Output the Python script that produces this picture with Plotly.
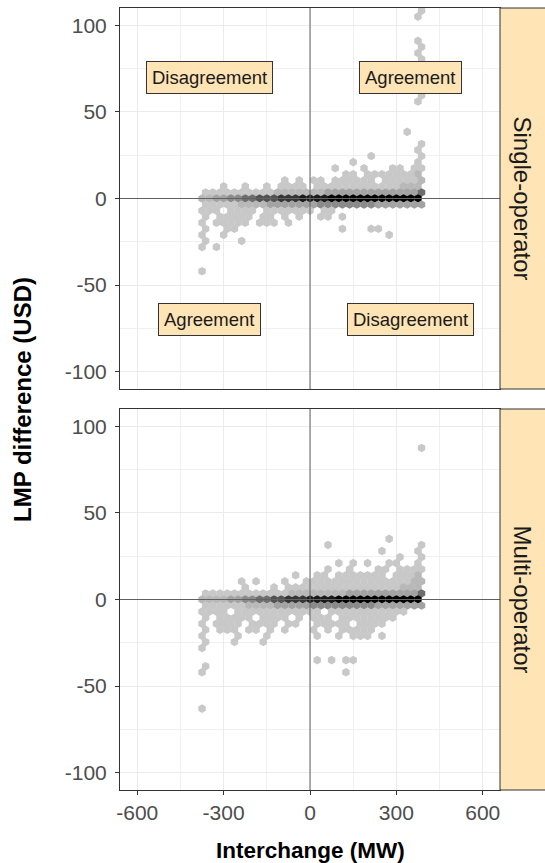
import plotly.graph_objects as go

# ---------------- data ----------------
# Hex-bin grid: bin centres. Even rows start at GRID_X0, odd rows are shifted half a bin.
GRID_X0 = -375.0      # MW
GRID_DX = 25.0        # MW between bins in a row
GRID_DY = 3.5         # USD between rows
# Each row: key = row index (y = index * GRID_DY), one char per bin, '.' = empty, 1..9 = count level
SINGLE_ROWS = {
    31: "..............................1",
    30: "..............................1",
    26: "..............................1",
    25: "..............................1",
    24: "..............................1",
    23: "..............................1",
    21: "..............................1",
    17: "..............................1",
    16: "..............................1",
    11: "............................1..",
    9:  "..............................1",
    8:  "..............................1",
    7:  ".......................1......1",
    6:  ".....................1........1",
    5:  "..................1...1...11.11",
    4:  "....................11.11111112",
    3:  "...........1.1.11.111111.111112",
    2:  "...1..1..1.1111.111111111111222",
    1:  "1111111111222222233333333333335",
    0:  "2233445566677788889999999999999",
    -1: "1111122223333333444444443333333",
    -2: "111.1111.1111111.11............",
    -3: "1.11111.11.1.1..11.1...........",
    -4: "1.11111.111.1..................",
    -5: "1..11..............1...11......",
    -6: "1..1......................1....",
    -7: "1....1.........................",
    -8: "1.1............................",
    -12: "1..............................",
}
MULTI_ROWS = {
    25: "..............................1",
    10: "..........................1....",
    9:  ".................1............1",
    8:  ".........................1....1",
    7:  "...........................1..1",
    6:  "...................1.1.1..11..1",
    5:  ".................1..1...11.1111",
    4:  ".............1..11.1111111.1112",
    3:  ".....1.1...1..11111111111111122",
    2:  "......1...1.1111111111111111222",
    1:  "1111111111112222222233333333335",
    0:  "2222334455667778888999999999999",
    -1: "1111112222333334444444443333333",
    -2: "1111.111111111111.11111111111..",
    -3: "1.11111.1111.1.111.11111111....",
    -4: "1.1111.1111.11..11111.1111.....",
    -5: "1.111.11.1.1...1.1.11111.......",
    -6: "1....1...1......1..1.111.1.....",
    -7: "1...1...1......................",
    -8: "1..............................",
    -10: "................1.1.11.........",
    -11: "1..............................",
    -12: "1...................1..........",
    -18: "1..............................",
}
PANELS = ["Single-operator", "Multi-operator"]
X_TICKS = [-600, -300, 0, 300, 600]
Y_TICKS = [-100, -50, 0, 50, 100]
LABELS = ["Disagreement", "Agreement", "Agreement", "Disagreement"]
LABEL_X = [-350, 350, -350, 350]
LABEL_Y = [70, 70, -70, -70]


def cells(rows):
    xs, ys, cs = [], [], []
    for j, s in rows.items():
        for k, ch in enumerate(s):
            if ch != ".":
                xs.append(GRID_X0 + (j % 2) * GRID_DX / 2 + k * GRID_DX)
                ys.append(j * GRID_DY)
                cs.append(int(ch))
    return xs, ys, cs


# ---------------- figure ----------------
FONT = "Liberation Sans, Arial, sans-serif"
STRIP_FILL = "#FFE4B5"
BORDER = "#333333"
HEX_SCALE = [[0.0, "#C8C8C8"], [0.125, "#B8B8B8"], [0.25, "#A3A3A3"], [0.375, "#8A8A8A"],
             [0.5, "#6E6E6E"], [0.625, "#525252"], [0.75, "#353535"], [0.875, "#1A1A1A"],
             [1.0, "#000000"]]

fig = go.Figure()
domains = [[401 / 782, 1.0], [0.0, 381 / 782]]
for i, rows in enumerate([SINGLE_ROWS, MULTI_ROWS]):
    xs, ys, cs = cells(rows)
    sfx = "" if i == 0 else "2"
    fig.add_trace(go.Scatter(
        x=xs, y=ys, mode="markers", xaxis="x" + sfx, yaxis="y" + sfx,
        marker=dict(symbol="hexagon", size=8.6, color=cs, colorscale=HEX_SCALE,
                    cmin=1, cmax=9, line=dict(width=0)),
        showlegend=False, hoverinfo="skip"))

axis_common = dict(
    showline=True, mirror=True, linecolor=BORDER, linewidth=1,
    showgrid=True, gridcolor="#EBEBEB", gridwidth=1, zeroline=False,
    tickfont=dict(family=FONT, size=21, color="#4D4D4D"),
    ticks="outside", ticklen=4, tickcolor=BORDER, tickwidth=1,
)

layout = dict(
    width=545, height=863,
    margin=dict(l=120, r=45, t=8, b=73),
    paper_bgcolor="white", plot_bgcolor="white",
    font=dict(family=FONT),
    showlegend=False,
)
for i in range(2):
    sfx = "" if i == 0 else "2"
    xa = dict(axis_common)
    xa.update(range=[-660, 660], domain=[0, 1], anchor="y" + sfx,
              tickmode="array", tickvals=X_TICKS, ticktext=[str(v) for v in X_TICKS],
              minor=dict(tick0=-600, dtick=150, showgrid=True, gridcolor="#F0F0F0", gridwidth=0.6))
    if i == 0:
        xa.update(showticklabels=False, ticks="")
    ya = dict(axis_common)
    ya.update(range=[-110, 110], domain=domains[i], anchor="x" + sfx,
              tickmode="array", tickvals=Y_TICKS, ticktext=[str(v) for v in Y_TICKS],
              ticklabelstandoff=4,
              minor=dict(tick0=-100, dtick=25, showgrid=True, gridcolor="#F0F0F0", gridwidth=0.6))
    layout["xaxis" + sfx] = xa
    layout["yaxis" + sfx] = ya
fig.update_layout(**layout)

shapes = []
annotations = []
for i, name in enumerate(PANELS):
    sfx = "" if i == 0 else "2"
    d0, d1 = domains[i]
    # reference lines at zero
    shapes.append(dict(type="line", xref="x" + sfx, yref="y" + sfx + " domain",
                       x0=0, x1=0, y0=0, y1=1, line=dict(color="#606060", width=1), layer="above"))
    shapes.append(dict(type="line", xref="x" + sfx + " domain", yref="y" + sfx,
                       x0=0, x1=1, y0=0, y1=0, line=dict(color="#606060", width=1), layer="above"))
    # strip
    shapes.append(dict(type="rect", xref="paper", yref="paper", x0=1.0, x1=1 + 50 / 380,
                       y0=d0, y1=d1, fillcolor=STRIP_FILL, line=dict(color=BORDER, width=1),
                       layer="above"))
    annotations.append(dict(text=name, xref="paper", yref="paper", x=1 + 22 / 380,
                            y=(d0 + d1) / 2, textangle=90, showarrow=False,
                            font=dict(family=FONT, size=24, color="#1A1A1A"),
                            xanchor="center", yanchor="middle"))

for t, lx, ly in zip(LABELS, LABEL_X, LABEL_Y):
    annotations.append(dict(text=t, xref="x", yref="y", x=lx, y=ly, showarrow=False,
                            font=dict(family=FONT, size=18.5, color="#1A1A1A"),
                            bgcolor=STRIP_FILL, bordercolor=BORDER, borderwidth=1, borderpad=5))

annotations.append(dict(text="<b>Interchange (MW)</b>", xref="paper", yref="paper",
                        x=0.5, y=-0.077, showarrow=False, xanchor="center", yanchor="middle",
                        font=dict(family=FONT, size=22.5, color="black")))
annotations.append(dict(text="<b>LMP difference (USD)</b>", xref="paper", yref="paper",
                        x=-0.258, y=0.5, textangle=-90, showarrow=False,
                        xanchor="center", yanchor="middle",
                        font=dict(family=FONT, size=24, color="black")))

fig.update_layout(shapes=shapes, annotations=annotations)
fig.write_html("out.html", config={"displayModeBar": False},
               post_script="document.body.style.margin='0';")
